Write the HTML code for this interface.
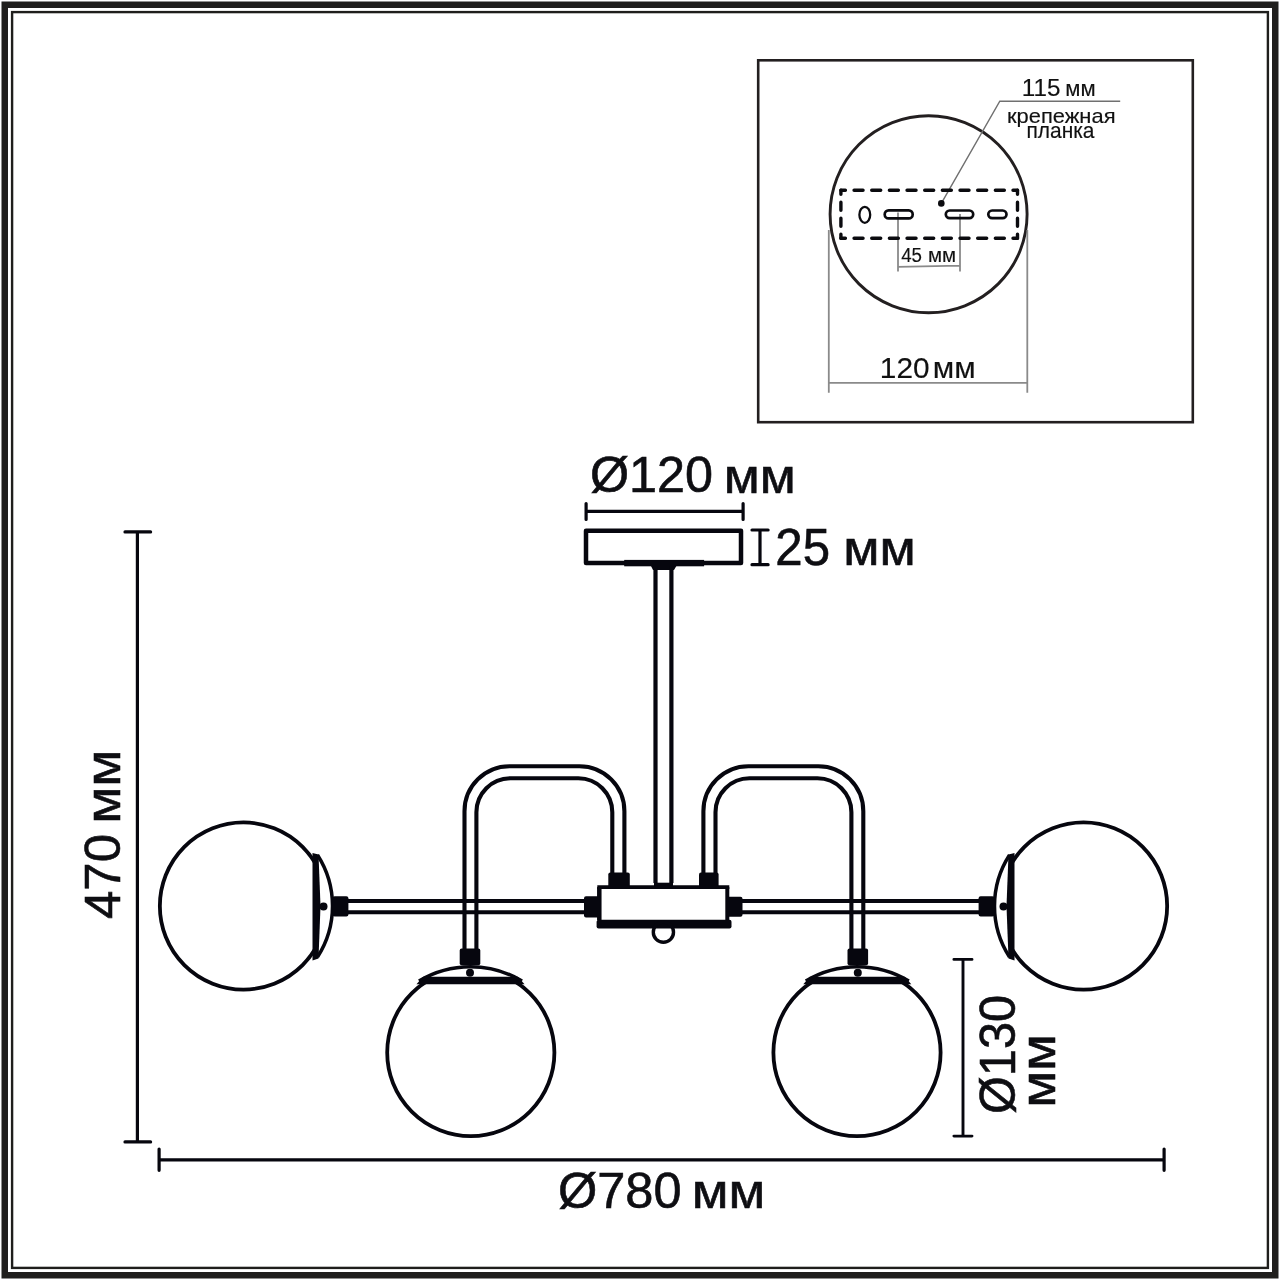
<!DOCTYPE html>
<html><head><meta charset="utf-8">
<style>
html,body{margin:0;padding:0;background:#fff;width:1280px;height:1280px;overflow:hidden}
svg{display:block;will-change:transform}
text{font-family:"Liberation Sans",sans-serif}
</style></head>
<body>
<svg width="1280" height="1280" viewBox="0 0 1280 1280">
<defs>
  <clipPath id="cg1"><rect x="0" y="0" width="316" height="1280"/></clipPath>
  <clipPath id="cg2"><rect x="0" y="980" width="1280" height="300"/></clipPath>
</defs>
<rect x="0" y="0" width="1280" height="1280" fill="#fff"/>
<!-- frame -->
<rect x="4.75" y="4.75" width="1270.5" height="1270.5" fill="none" stroke="#1f1e1c" stroke-width="6.5"/>
<rect x="12.1" y="12.1" width="1255.8" height="1255.8" fill="none" stroke="#1f1e1c" stroke-width="2.4"/>

<!-- INSET -->
<g id="inset">
  <rect x="758.2" y="60.3" width="434.6" height="361.9" fill="none" stroke="#231f20" stroke-width="2.6"/>
  <circle cx="928.6" cy="214.2" r="98.5" fill="none" stroke="#231f20" stroke-width="2.9"/>
  <!-- gray dims -->
  <g stroke="#8a8a8a" stroke-width="1.8" fill="none">
    <path d="M828.8 230 V392.7 M1027.3 230 V392.7 M828.8 382.9 H1027.3"/>
    <path d="M898 212.4 V271.6 M960 214 V271.6 M898 266.8 L960 265.6"/>
    <path d="M941.3 203.4 L999.8 101.2 H1120.2" stroke="#707070" stroke-width="1.4"/>
  </g>
  <!-- dashed plate -->
  <g stroke="#0b0b0f" stroke-width="3.4" stroke-linecap="round" fill="none">
    <path d="M840.9 190.2 H1017.5" stroke-dasharray="9 8.66" stroke-dashoffset="4.5"/>
    <path d="M840.9 238.2 H1017.5" stroke-dasharray="9 8.66" stroke-dashoffset="4.5"/>
    <path d="M840.9 190.2 V238.2" stroke-dasharray="8 8" stroke-dashoffset="4"/>
    <path d="M1017.5 190.2 V238.2" stroke-dasharray="8 8" stroke-dashoffset="4"/>
  </g>
  <g stroke="#0b0b0f" stroke-width="2.7" fill="none">
    <ellipse cx="864.8" cy="214.8" rx="5.4" ry="8" stroke-width="2.3"/>
    <rect x="884.7" y="210.4" width="28" height="8" rx="4"/>
    <rect x="945.8" y="210.5" width="27.4" height="7.7" rx="3.85"/>
    <rect x="988.3" y="210.5" width="18.2" height="7.7" rx="3.85"/>
  </g>
  <circle cx="941.3" cy="203.4" r="3.3" fill="#0b0b0f"/>
  <g fill="#111" stroke="#111" stroke-width="0.15">
    <text x="1021.89" y="95.7" font-size="23.40" textLength="38.65" lengthAdjust="spacingAndGlyphs">115</text>
    <text x="1065.37" y="95.7" font-size="21.21" textLength="30.31" lengthAdjust="spacingAndGlyphs">мм</text>
    <text x="1006.95" y="123" font-size="20.08" textLength="108.58" lengthAdjust="spacingAndGlyphs">крепежная</text>
    <text x="1026.47" y="138.4" font-size="21.21" textLength="68.04" lengthAdjust="spacingAndGlyphs">планка</text>
    <text x="901.20" y="262.2" font-size="20.06" textLength="20.83" lengthAdjust="spacingAndGlyphs">45</text>
    <text x="927.92" y="262.2" font-size="19.51" textLength="28.17" lengthAdjust="spacingAndGlyphs">мм</text>
    <text x="879.84" y="378.1" font-size="29.51" textLength="49.76" lengthAdjust="spacingAndGlyphs">120</text>
    <text x="932.79" y="378.1" font-size="28.60" textLength="42.92" lengthAdjust="spacingAndGlyphs">мм</text>
  </g>
</g>

<!-- MAIN DRAWING -->
<g id="main" stroke="#06060e" fill="none">
  <!-- dimension lines -->
  <g stroke-width="3.2" stroke-linecap="round">
    <path d="M137.4 531.9 V1141.9 M125 531.9 H150.6 M125 1141.9 H150.6"/>
    <path d="M159.1 1159.8 H1164.1 M159.1 1149.1 V1170.3 M1164.1 1149.1 V1170.3"/>
    <path d="M586.1 511.4 H743.1 M586.1 503.5 V519.5 M743.1 503.5 V519.5"/>
    <path d="M760 530 V564.7 M752 530 H768.1 M752 564.7 H768.1"/>
    <path d="M963 959.4 V1136.1 M953.9 959.4 H972 M953.9 1136.1 H972" stroke-width="2.9"/>
  </g>
  <!-- canopy -->
  <rect x="586" y="530.7" width="155" height="32.3" stroke-width="4.5" stroke-linejoin="round"/>
  <rect x="624.2" y="559.9" width="79.9" height="6.4" fill="#06060e" stroke="none"/>
  <path d="M650.5 565 H677 L674 570 H653 Z" fill="#06060e" stroke="none"/>
  <!-- rod -->
  <path d="M655.5 566 V883 M671.4 566 V883" stroke-width="4.2"/>
  <rect x="654" y="882.7" width="19" height="6.3" fill="#06060e" stroke="none"/>
  <!-- horizontal arms -->
  <path d="M346 901 H586 M346 912.2 H586 M740 901 H981 M740 912.2 H981" stroke-width="4.1"/>
  <!-- hub -->
  <path d="M599.3 920 V887.1" stroke-width="4.5"/><path d="M727.3 920 V887.1" stroke-width="4"/><path d="M597.3 887.1 H729.3" stroke-width="3.6"/>
  <rect x="596.6" y="919.8" width="134.9" height="8.6" rx="2" fill="#06060e" stroke="none"/>
  <circle cx="663.4" cy="932.2" r="10.1" stroke-width="3.4"/>
  <rect x="584" y="896.3" width="17" height="21.1" rx="2" fill="#06060e" stroke="none"/>
  <rect x="726.5" y="896.7" width="16" height="20" rx="2" fill="#06060e" stroke="none"/>
  <rect x="608.3" y="872.5" width="21.5" height="16.4" rx="2" fill="#06060e" stroke="none"/>
  <rect x="699" y="872.5" width="19.6" height="16.4" rx="2" fill="#06060e" stroke="none"/>

  <!-- left side group -->
  <g id="L">
    <!-- U tube -->
    <path d="M464.5 950 V811.2 A45 45 0 0 1 509.5 766.25 H579.4 A45 45 0 0 1 624.4 811.2 V874" stroke-width="4.1"/>
    <path d="M476.4 950 V812.3 A34 34 0 0 1 510.4 778.3 H578.3 A34 34 0 0 1 612.3 812.3 V874" stroke-width="4.1"/>
    <!-- globe 1 -->
    <circle cx="243.45" cy="906" r="83.6" stroke-width="3.8" clip-path="url(#cg1)"/>
    <path d="M312.5 853 L318.5 854.5 L320.5 906 L318.5 958.5 L312.5 960.5 Z" fill="#06060e" stroke="none"/>
    <path d="M317.5 855 A94.2 94.2 0 0 1 317.5 957" stroke-width="3.5"/>
    <circle cx="323.5" cy="906.5" r="4" fill="#06060e" stroke="none"/>
    <rect x="332.6" y="896.3" width="15.8" height="20.3" rx="2" fill="#06060e" stroke="none"/>
    <!-- globe 2 -->
    <circle cx="470.8" cy="1052.5" r="83.6" stroke-width="3.8" clip-path="url(#cg2)"/>
    <path d="M423 976.8 L518 976.8 L524.5 984.3 L416.5 984.3 Z" fill="#06060e" stroke="none"/>
    <path d="M419 981 A100 100 0 0 1 522 981" stroke-width="3.5"/>
    <circle cx="470" cy="972.8" r="4" fill="#06060e" stroke="none"/>
    <rect x="459.7" y="948.4" width="20.6" height="16.9" rx="2" fill="#06060e" stroke="none"/>
  </g>
  <!-- right side: U tube + globe 2 mirrored about 663.9 -->
  <g transform="translate(1327.8 0) scale(-1 1)">
    <path d="M464.5 950 V811.2 A45 45 0 0 1 509.5 766.25 H579.4 A45 45 0 0 1 624.4 811.2 V874" stroke-width="4.1"/>
    <path d="M476.4 950 V812.3 A34 34 0 0 1 510.4 778.3 H578.3 A34 34 0 0 1 612.3 812.3 V874" stroke-width="4.1"/>
    <circle cx="470.8" cy="1052.5" r="83.6" stroke-width="3.8" clip-path="url(#cg2)"/>
    <path d="M423 976.8 L518 976.8 L524.5 984.3 L416.5 984.3 Z" fill="#06060e" stroke="none"/>
    <path d="M419 981 A100 100 0 0 1 522 981" stroke-width="3.5"/>
    <circle cx="470" cy="972.8" r="4" fill="#06060e" stroke="none"/>
    <rect x="459.7" y="948.4" width="20.6" height="16.9" rx="2" fill="#06060e" stroke="none"/>
  </g>
  <!-- right globe 1 mirrored about 663.5 -->
  <g transform="translate(1327 0) scale(-1 1)">
    <circle cx="243.45" cy="906" r="83.6" stroke-width="3.8" clip-path="url(#cg1)"/>
    <path d="M312.5 853 L318.5 854.5 L320.5 906 L318.5 958.5 L312.5 960.5 Z" fill="#06060e" stroke="none"/>
    <path d="M317.5 855 A94.2 94.2 0 0 1 317.5 957" stroke-width="3.5"/>
    <circle cx="323.5" cy="906.5" r="4" fill="#06060e" stroke="none"/>
    <rect x="332.6" y="896.3" width="15.8" height="20.3" rx="2" fill="#06060e" stroke="none"/>
  </g>
</g>
<!-- main texts -->
<g fill="#0e0e12" stroke="#0e0e12" stroke-width="0.6">
    <text x="589.94" y="492.3" font-size="49.13" textLength="123.11" lengthAdjust="spacingAndGlyphs">Ø120</text>
    <text x="723.71" y="493" font-size="48.48" textLength="72.06" lengthAdjust="spacingAndGlyphs">мм</text>
    <text x="775.37" y="565.3" font-size="51.02" textLength="54.72" lengthAdjust="spacingAndGlyphs">25</text>
    <text x="843.25" y="565.2" font-size="48.30" textLength="72.52" lengthAdjust="spacingAndGlyphs">мм</text>
    <text x="557.96" y="1207.9" font-size="50.29" textLength="123.59" lengthAdjust="spacingAndGlyphs">Ø780</text>
    <text x="691.71" y="1208" font-size="47.73" textLength="73.60" lengthAdjust="spacingAndGlyphs">мм</text>
    <text transform="translate(119.8 919.03) rotate(-90)" x="0" y="0" font-size="50.15" textLength="85.08" lengthAdjust="spacingAndGlyphs">470</text>
    <text transform="translate(120.2 823.85) rotate(-90)" x="0" y="0" font-size="48.30" textLength="74.15" lengthAdjust="spacingAndGlyphs">мм</text>
    <text transform="translate(1014.7 1114.04) rotate(-90)" x="0" y="0" font-size="50.44" textLength="119.08" lengthAdjust="spacingAndGlyphs">Ø130</text>
    <text transform="translate(1054.9 1107.84) rotate(-90)" x="0" y="0" font-size="48.67" textLength="73.71" lengthAdjust="spacingAndGlyphs">мм</text>
</g>
</svg>
</body></html>
